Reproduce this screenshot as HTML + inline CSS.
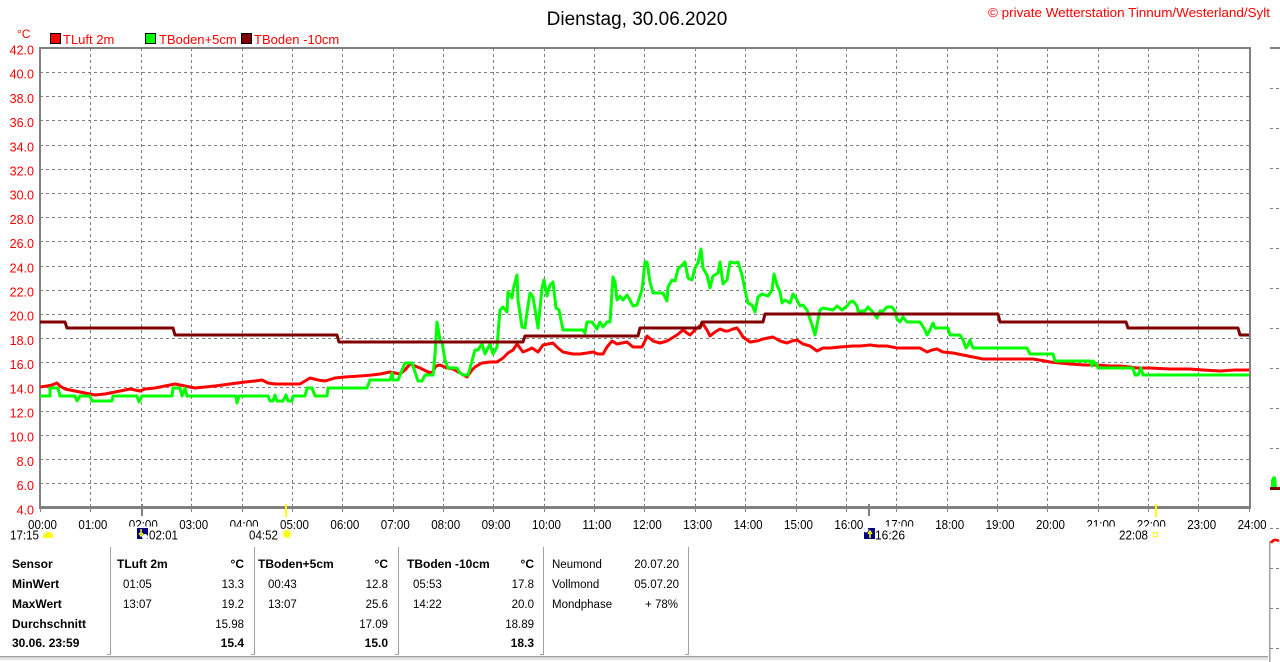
<!DOCTYPE html>
<html><head><meta charset="utf-8"><style>
html,body{margin:0;padding:0;background:#fff;}
svg{display:block;}
text{font-family:"Liberation Sans",Arial,sans-serif;}
</style></head><body>
<svg width="1280" height="662" viewBox="0 0 1280 662" xmlns="http://www.w3.org/2000/svg">
<rect width="1280" height="662" fill="#fff"/>
<!-- title -->
<text x="637" y="25" font-size="19" text-anchor="middle" fill="#000">Dienstag, 30.06.2020</text>
<text x="1270" y="17" font-size="13" text-anchor="end" fill="#ff0000" textLength="282" lengthAdjust="spacingAndGlyphs">© private Wetterstation Tinnum/Westerland/Sylt</text>
<!-- legend -->
<text x="17" y="38" font-size="12" fill="#ff0000">°C</text>
<rect x="50.5" y="33.5" width="10" height="10" fill="#ff0000" stroke="#000"/>
<text x="63" y="44" font-size="13" fill="#ff0000">TLuft 2m</text>
<rect x="145.5" y="33.5" width="10" height="10" fill="#00ff00" stroke="#000"/>
<text x="159" y="44" font-size="13" fill="#ff0000">TBoden+5cm</text>
<rect x="241.5" y="33.5" width="10" height="10" fill="#800000" stroke="#000"/>
<text x="254" y="44" font-size="13" fill="#ff0000">TBoden -10cm</text>

<!-- grid -->
<g stroke="#808080" stroke-width="1" stroke-dasharray="3,3" fill="none">
<path d="M40 72.5H1250M40 96.5H1250M40 120.5H1250M40 145.5H1250M40 169.5H1250M40 193.5H1250M40 217.5H1250M40 241.5H1250M40 266.5H1250M40 290.5H1250M40 314.5H1250M40 338.5H1250M40 362.5H1250M40 387.5H1250M40 411.5H1250M40 435.5H1250M40 459.5H1250M40 483.5H1250"/>
<path d="M90.5 48V507M141.5 48V507M191.5 48V507M242.5 48V507M292.5 48V507M342.5 48V507M393.5 48V507M443.5 48V507M493.5 48V507M544.5 48V507M594.5 48V507M644.5 48V507M695.5 48V507M745.5 48V507M796.5 48V507M846.5 48V507M896.5 48V507M947.5 48V507M997.5 48V507M1047.5 48V507M1098.5 48V507M1148.5 48V507M1198.5 48V507"/>
</g>
<!-- hour ticks -->
<g stroke="#808080" stroke-width="1">
<path d="M40.5 507V512M90.5 507V512M141.5 507V512M191.5 507V512M242.5 507V512M292.5 507V512M342.5 507V512M393.5 507V512M443.5 507V512M493.5 507V512M544.5 507V512M594.5 507V512M644.5 507V512M695.5 507V512M745.5 507V512M796.5 507V512M846.5 507V512M896.5 507V512M947.5 507V512M997.5 507V512M1047.5 507V512M1098.5 507V512M1148.5 507V512M1198.5 507V512M1249.5 507V512"/>
</g>
<!-- axes frame -->
<rect x="39" y="47" width="1212" height="2" fill="#808080"/>
<rect x="39" y="47" width="2" height="462" fill="#808080"/>
<rect x="39" y="506" width="1212" height="3" fill="#808080"/>
<rect x="1249" y="47" width="2" height="462" fill="#808080"/>
<!-- event ticks -->
<rect x="141" y="504" width="2" height="12" fill="#808080"/>
<rect x="285" y="504" width="2" height="13" fill="#ffff00"/>
<rect x="868" y="504" width="2" height="12" fill="#808080"/>
<rect x="1155" y="504" width="2" height="13" fill="#ffff00"/>

<!-- y labels -->
<g font-size="12.5" fill="#ff0000" text-anchor="end">
<text x="34" y="54.5">42.0</text><text x="34" y="78.7">40.0</text><text x="34" y="102.9">38.0</text><text x="34" y="127.1">36.0</text><text x="34" y="151.3">34.0</text><text x="34" y="175.5">32.0</text><text x="34" y="199.7">30.0</text><text x="34" y="223.9">28.0</text><text x="34" y="248.1">26.0</text><text x="34" y="272.3">24.0</text><text x="34" y="296.5">22.0</text><text x="34" y="320.7">20.0</text><text x="34" y="344.9">18.0</text><text x="34" y="369.1">16.0</text><text x="34" y="393.3">14.0</text><text x="34" y="417.5">12.0</text><text x="34" y="441.7">10.0</text><text x="34" y="465.9">8.0</text><text x="34" y="490.1">6.0</text><text x="34" y="514.3">4.0</text>
</g>
<!-- x labels -->
<g font-size="13" fill="#000" text-anchor="middle">
<text x="42.5" y="529" textLength="29" lengthAdjust="spacingAndGlyphs">00:00</text>
<text x="92.9" y="529" textLength="29" lengthAdjust="spacingAndGlyphs">01:00</text>
<text x="143.3" y="529" textLength="29" lengthAdjust="spacingAndGlyphs">02:00</text>
<text x="193.7" y="529" textLength="29" lengthAdjust="spacingAndGlyphs">03:00</text>
<text x="244.1" y="529" textLength="29" lengthAdjust="spacingAndGlyphs">04:00</text>
<text x="294.5" y="529" textLength="29" lengthAdjust="spacingAndGlyphs">05:00</text>
<text x="344.9" y="529" textLength="29" lengthAdjust="spacingAndGlyphs">06:00</text>
<text x="395.3" y="529" textLength="29" lengthAdjust="spacingAndGlyphs">07:00</text>
<text x="445.7" y="529" textLength="29" lengthAdjust="spacingAndGlyphs">08:00</text>
<text x="496.1" y="529" textLength="29" lengthAdjust="spacingAndGlyphs">09:00</text>
<text x="546.5" y="529" textLength="29" lengthAdjust="spacingAndGlyphs">10:00</text>
<text x="596.9" y="529" textLength="29" lengthAdjust="spacingAndGlyphs">11:00</text>
<text x="647.3" y="529" textLength="29" lengthAdjust="spacingAndGlyphs">12:00</text>
<text x="697.7" y="529" textLength="29" lengthAdjust="spacingAndGlyphs">13:00</text>
<text x="748.1" y="529" textLength="29" lengthAdjust="spacingAndGlyphs">14:00</text>
<text x="798.5" y="529" textLength="29" lengthAdjust="spacingAndGlyphs">15:00</text>
<text x="848.9" y="529" textLength="29" lengthAdjust="spacingAndGlyphs">16:00</text>
<text x="899.3" y="529" textLength="29" lengthAdjust="spacingAndGlyphs">17:00</text>
<text x="949.7" y="529" textLength="29" lengthAdjust="spacingAndGlyphs">18:00</text>
<text x="1000.1" y="529" textLength="29" lengthAdjust="spacingAndGlyphs">19:00</text>
<text x="1050.5" y="529" textLength="29" lengthAdjust="spacingAndGlyphs">20:00</text>
<text x="1100.9" y="529" textLength="29" lengthAdjust="spacingAndGlyphs">21:00</text>
<text x="1151.3" y="529" textLength="29" lengthAdjust="spacingAndGlyphs">22:00</text>
<text x="1201.7" y="529" textLength="29" lengthAdjust="spacingAndGlyphs">23:00</text>
<text x="1252.1" y="529" textLength="29" lengthAdjust="spacingAndGlyphs">24:00</text>
</g>
<!-- clipping of some labels -->
<g fill="#fff">
<rect x="127" y="526.5" width="34" height="4"/>
<rect x="228" y="526.5" width="34" height="4"/>
<rect x="884" y="526.5" width="32" height="4"/>
<rect x="1085" y="526.5" width="32" height="4"/>
<rect x="1135" y="526.5" width="33" height="4"/>
</g>
<!-- sun/moon row -->
<g font-size="13" fill="#000">
<text x="10" y="539.5" textLength="29" lengthAdjust="spacingAndGlyphs">17:15</text>
<text x="149" y="539.5" textLength="29" lengthAdjust="spacingAndGlyphs">02:01</text>
<text x="249" y="539.5" textLength="29" lengthAdjust="spacingAndGlyphs">04:52</text>
<text x="875" y="539.5" textLength="30" lengthAdjust="spacingAndGlyphs">16:26</text>
<text x="1119" y="539.5" textLength="29" lengthAdjust="spacingAndGlyphs">22:08</text>
</g>
<path d="M43 538 Q43 533 46 533 Q47 531 49 532 Q52 532 53 535 L53 538 Z" fill="#ffff00"/>
<rect x="137" y="528" width="11" height="11" fill="#000080"/>
<circle cx="145" cy="537" r="3" fill="#fff"/>
<path d="M141 529V534M139 533L141 536L143 533" stroke="#ffff00" stroke-width="1.5" fill="none"/>
<circle cx="287" cy="534" r="5.5" fill="#ffffcc"/>
<circle cx="287" cy="534" r="3.5" fill="#ffff00"/>
<rect x="864" y="528" width="11" height="11" fill="#000080"/>
<circle cx="866" cy="530" r="2.5" fill="#fff"/>
<path d="M870 538V533M868 534L870 531L872 534" stroke="#ffff00" stroke-width="1.5" fill="none"/>
<rect x="1153.5" y="532.5" width="4" height="4" fill="none" stroke="#ffff00"/>

<!-- series -->
<polyline fill="none" stroke="#ff0000" stroke-width="3" stroke-linejoin="round" points="40,387 47,386 52,385 57,383 60,386 65,389 75,391 85,393 95,395 105,394 115,392 125,390 130,389 135,390 140,391 145,389 155,388 165,386 175,384 185,386 195,388 205,387 215,386 230,384 245,382 255,381 262,380 268,383 275,384 290,384 300,384 305,381 310,378 318,380 325,381 335,378 345,377 360,376 372,375 380,374 390,372 400,374 405,370 410,364 415,366 420,368 428,372 432,373 436,366 440,365 447,368 453,369 460,373 467,377 472,370 475,367 482,363 490,362 497,362 503,358 508,353 513,350 517,344 520,348 523,352 528,350 532,348 538,352 543,345 548,344 553,343 558,348 563,352 573,354 580,354 587,353 593,352 598,354 603,354 607,347 612,341 617,344 622,343 627,342 633,347 642,347 645,341 647,336 653,341 660,343 667,341 672,338 677,335 683,330 687,333 690,335 694,331 697,328 700,326 703,324 707,330 710,336 715,332 720,329 725,331 728,331 733,329 737,328 740,332 743,337 750,342 757,341 763,339 768,338 773,337 780,341 787,343 792,341 797,340 803,344 810,346 817,351 823,348 830,348 840,347 853,346 860,346 870,345 878,346 887,346 897,348 910,348 920,348 927,352 932,350 937,349 943,352 953,353 963,355 973,357 983,359 1003,359 1020,359 1033,359 1045,361 1050,362 1060,363 1070,364 1085,365 1097,365 1110,366 1120,366 1130,367 1137,368 1150,368 1170,369 1190,369 1203,370 1220,371 1235,370 1249,370"/>
<polyline fill="none" stroke="#00ff00" stroke-width="3" stroke-linejoin="round" points="40,396 50,396 50,388 58,388 60,396 75,396 77,401 80,396 90,396 92,401 112,401 113,396 137,396 139,402 142,396 172,396 173,388 180,388 182,396 185,388 187,396 236,396 237,403 239,396 268,396 270,401 273,401 275,395 277,401 283,401 286,395 288,401 292,401 293,396 305,396 307,388 312,388 315,396 327,396 328,388 367,388 370,380 390,380 392,373 393,380 398,380 405,363 412,363 418,381 422,381 425,375 433,375 435,355 437,322 440,340 442,342 445,360 448,368 457,368 460,373 463,375 468,375 472,361 475,350 478,350 482,344 485,354 490,344 493,354 497,347 500,310 503,307 507,312 508,292 512,298 513,290 517,275 518,300 522,327 525,328 527,312 530,293 533,297 538,328 542,288 544,280 547,296 550,285 553,282 556,308 559,310 563,330 565,330 583,330 585,333 587,322 592,322 597,329 600,322 603,327 607,322 610,322 613,277 615,282 617,300 620,296 623,300 627,295 630,300 633,306 637,305 640,296 642,290 645,262 647,262 650,282 653,293 663,293 667,301 668,287 672,280 675,281 678,269 682,265 685,262 688,278 692,280 695,268 698,263 701,249 703,268 707,275 710,288 713,276 718,273 720,262 723,284 727,280 730,262 735,263 738,262 742,275 745,290 748,303 752,305 755,312 758,297 762,294 768,296 772,290 774,274 777,285 780,292 782,303 785,300 790,303 793,294 797,300 800,306 803,305 807,310 812,325 815,335 818,320 820,310 823,308 833,310 837,306 842,310 847,306 850,302 853,301 857,306 858,311 865,311 868,307 872,311 877,318 880,311 883,311 887,307 892,307 895,311 897,319 900,322 903,317 907,322 913,322 920,322 922,325 925,330 927,335 930,330 933,323 935,328 938,328 948,328 950,335 960,335 963,340 966,348 968,345 970,340 973,348 1027,348 1030,354 1053,354 1055,361 1090,361 1092,366 1093,361 1097,365 1098,368 1133,368 1135,375 1138,375 1141,368 1143,375 1249,375"/>
<polyline fill="none" stroke="#800000" stroke-width="3" stroke-linejoin="round" points="40,322 65,322 67,328 173,328 175,335 337,335 339,342 523,342 525,336 638,336 640,328 700,328 702,322 763,322 765,314 998,314 1000,322 1126,322 1128,328 1238,328 1240,335 1249,335"/>

<!-- right partial panel -->
<rect x="1270" y="47" width="10" height="2" fill="#808080"/>
<g stroke="#808080" stroke-width="1" stroke-dasharray="3,3">
<path d="M1270 88.5H1280M1270 128.5H1280M1270 168.5H1280M1270 208.5H1280M1270 248.5H1280M1270 288.5H1280M1270 328.5H1280M1270 368.5H1280M1270 408.5H1280M1270 448.5H1280M1270 528.5H1280M1270 568.5H1280M1270 608.5H1280M1270 648.5H1280"/>
</g>
<path d="M1271 488V480L1273 476L1276 477L1277 488Z" fill="#00ff00"/>
<rect x="1270" y="487" width="10" height="3" fill="#800000"/>
<rect x="1269" y="541" width="1.5" height="121" fill="#a0a0a0"/>
<path d="M1271 543Q1274 538 1279 541" stroke="#ff0000" stroke-width="2.5" fill="none"/>

<!-- table -->
<g stroke="#a0a0a0" stroke-width="1" fill="none">
<path d="M110.5 547V654.5H107M254.5 547V654.5H251M398.5 547V654.5H395M543.5 547V654.5H540M688.5 547V654.5H685"/>
</g>
<rect x="0" y="656" width="1268" height="1.5" fill="#a0a0a0"/>
<rect x="0" y="658.5" width="1268" height="1" fill="#c8c8c8"/>
<g font-size="12" font-weight="bold" fill="#000">
<text x="12" y="568">Sensor</text>
<text x="12" y="588">MinWert</text>
<text x="12" y="608">MaxWert</text>
<text x="12" y="628">Durchschnitt</text>
<text x="12" y="647">30.06. 23:59</text>
<text x="117" y="568">TLuft 2m</text>
<text x="244" y="568" text-anchor="end">°C</text>
<text x="244" y="647" text-anchor="end">15.4</text>
<text x="258" y="568">TBoden+5cm</text>
<text x="388" y="568" text-anchor="end">°C</text>
<text x="388" y="647" text-anchor="end">15.0</text>
<text x="407" y="568">TBoden -10cm</text>
<text x="534" y="568" text-anchor="end">°C</text>
<text x="534" y="647" text-anchor="end">18.3</text>
</g>
<g font-size="11.5" fill="#000">
<text x="123" y="588">01:05</text>
<text x="244" y="588" text-anchor="end">13.3</text>
<text x="123" y="608">13:07</text>
<text x="244" y="608" text-anchor="end">19.2</text>
<text x="244" y="628" text-anchor="end">15.98</text>
<text x="268" y="588">00:43</text>
<text x="388" y="588" text-anchor="end">12.8</text>
<text x="268" y="608">13:07</text>
<text x="388" y="608" text-anchor="end">25.6</text>
<text x="388" y="628" text-anchor="end">17.09</text>
<text x="413" y="588">05:53</text>
<text x="534" y="588" text-anchor="end">17.8</text>
<text x="413" y="608">14:22</text>
<text x="534" y="608" text-anchor="end">20.0</text>
<text x="534" y="628" text-anchor="end">18.89</text>
<text x="552" y="568">Neumond</text>
<text x="679" y="568" text-anchor="end">20.07.20</text>
<text x="552" y="588">Vollmond</text>
<text x="679" y="588" text-anchor="end">05.07.20</text>
<text x="552" y="608">Mondphase</text>
<text x="678" y="608" text-anchor="end">+ 78%</text>
</g>
</svg>
</body></html>
